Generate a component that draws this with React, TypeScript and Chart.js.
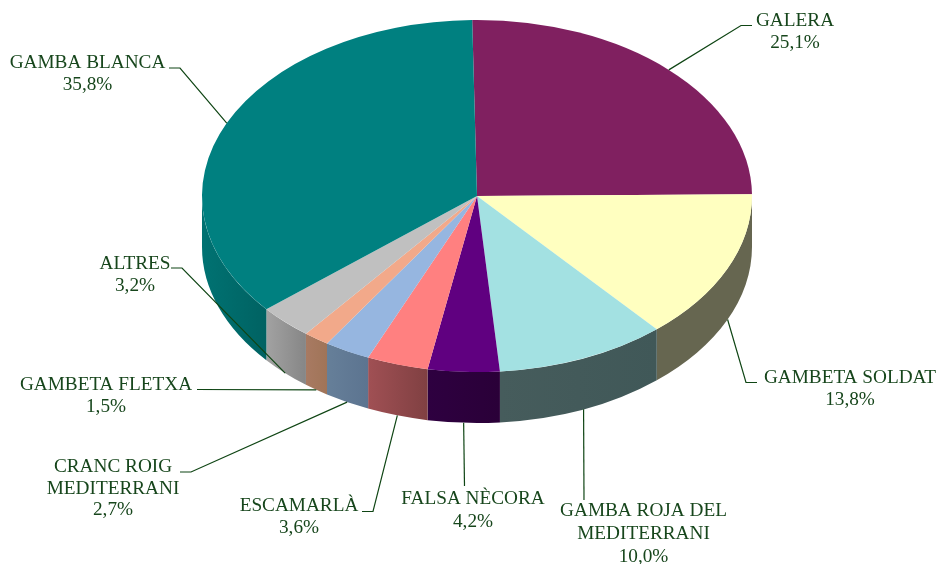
import React, { useEffect, useRef } from "react";
import { Chart, registerables } from "chart.js";

Chart.register(...registerables);

const categories = [
  "GALERA",
  "GAMBETA SOLDAT",
  "GAMBA ROJA DEL\nMEDITERRANI",
  "FALSA NÈCORA",
  "ESCAMARLÀ",
  "CRANC ROIG\nMEDITERRANI",
  "GAMBETA FLETXA",
  "ALTRES",
  "GAMBA BLANCA",
];
const shares = [25.1, 13.8, 10.0, 4.2, 3.6, 2.7, 1.5, 3.2, 35.8];

const topColours = ["#802060", "#FFFFC0", "#A3E1E2", "#600080", "#FF8080", "#96B6E0", "#F2A98A", "#C0C0C0", "#008080"];
const wallLeft = ["#4d1339", "#666650", "#465c5c", "#2e0040", "#a05054", "#667f99", "#a87a62", "#a2a2a2", "#007272"];
const wallRight = ["#4d1339", "#666650", "#405858", "#2a0038", "#804042", "#5c7490", "#a07458", "#868686", "#006262"];

// Label layout: centre x, first line y, then the leader's bend points, anchor is computed from the arc.
const labelCentreX = [795, 850, 643.5, 473, 299, 113, 106, 135, 87.5];
const labelTopY = [21, 378, 511, 499, 506, 467, 385, 264, 63];
const leaderBends: number[][][] = [
  [[741, 25.5], [752, 25.5]],
  [[746, 382.5], [757, 382.5]],
  [[584, 500]],
  [[464.5, 486]],
  [[373, 511.5], [362, 511.5]],
  [[191, 472], [180, 472]],
  [[197, 389.5]],
  [[182, 268], [171, 268]],
  [[180, 68], [169, 68]],
];
const lineGap = [22, 22, 23, 23, 22, 21.5, 22, 22, 22];

const CENTRE_Y = 196;
const SQUASH = 176 / 275;
const DEPTH = 51;
const TEXT_COLOUR = "#17461c";
const LINE_COLOUR = "#0f4514";

const pie3d = {
  id: "pie3d",
  beforeDatasetsDraw(chart: any) {
    const ctx = chart.ctx as CanvasRenderingContext2D;
    const arcs = chart.getDatasetMeta(0).data;
    arcs.forEach((arc: any, i: number) => {
      const a0 = Math.max(arc.startAngle, 0);
      const a1 = Math.min(arc.endAngle, Math.PI);
      if (a1 <= a0) return;
      const rx = arc.outerRadius;
      const ry = rx * SQUASH;
      const x0 = arc.x + rx * Math.cos(a1);
      const x1 = arc.x + rx * Math.cos(a0);
      const grad = ctx.createLinearGradient(x0, 0, x1, 0);
      grad.addColorStop(0, wallLeft[i]);
      grad.addColorStop(1, wallRight[i]);
      ctx.beginPath();
      ctx.ellipse(arc.x, CENTRE_Y, rx, ry, 0, a0, a1);
      ctx.ellipse(arc.x, CENTRE_Y + DEPTH, rx, ry, 0, a1, a0, true);
      ctx.closePath();
      ctx.fillStyle = grad;
      ctx.fill();
    });
    const cy = arcs[0].y;
    ctx.save();
    ctx.translate(0, CENTRE_Y);
    ctx.scale(1, SQUASH);
    ctx.translate(0, -cy);
  },
  afterDatasetsDraw(chart: any) {
    const ctx = chart.ctx as CanvasRenderingContext2D;
    ctx.restore();
    const arcs = chart.getDatasetMeta(0).data;
    ctx.lineWidth = 1.2;
    ctx.strokeStyle = LINE_COLOUR;
    arcs.forEach((arc: any, i: number) => {
      const mid = (arc.startAngle + arc.endAngle) / 2;
      const s = Math.sin(mid);
      const ax = arc.x + arc.outerRadius * Math.cos(mid);
      const ay = CENTRE_Y + arc.outerRadius * SQUASH * s + (s > 0 ? DEPTH : 0);
      ctx.beginPath();
      ctx.moveTo(ax, ay);
      leaderBends[i].forEach(([x, y]) => ctx.lineTo(x, y));
      ctx.stroke();

      const lines = categories[i].split("\n").concat(shares[i].toFixed(1).replace(".", ",") + "%");
      ctx.font = '19.25px "Liberation Serif"';
      ctx.fillStyle = TEXT_COLOUR;
      ctx.textAlign = "center";
      ctx.textBaseline = "middle";
      lines.forEach((t, k) => ctx.fillText(t, labelCentreX[i], labelTopY[i] + k * lineGap[i]));
    });
  },
};

export default function App() {
  const ref = useRef<HTMLCanvasElement>(null);
  useEffect(() => {
    const chart = new Chart(ref.current!, {
      type: "pie",
      data: {
        labels: categories,
        datasets: [{ data: shares, backgroundColor: topColours, borderWidth: 0 }],
      },
      options: {
        animation: false,
        responsive: false,
        rotation: -1,
        layout: { padding: { left: 202, right: 188, top: 7, bottom: 7 } },
        plugins: { legend: { display: false }, tooltip: { enabled: false } },
      },
      plugins: [pie3d],
    } as any);
    return () => chart.destroy();
  }, []);
  return (
    <canvas
      ref={ref}
      width={940}
      height={564}
      style={{ position: "absolute", left: 0, top: 0, display: "block", background: "#fff" }}
    />
  );
}
